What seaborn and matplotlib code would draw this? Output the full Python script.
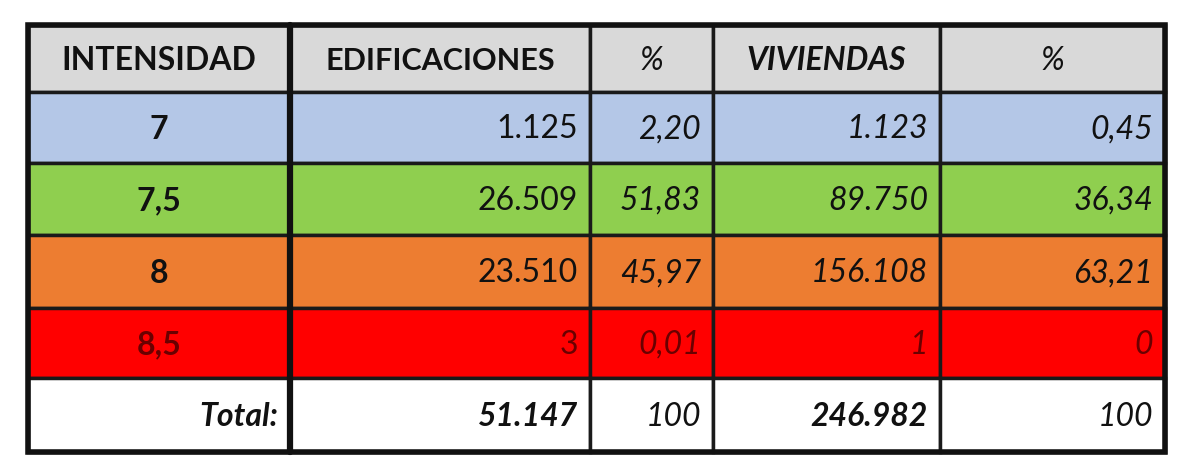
import matplotlib
matplotlib.use("Agg")
import matplotlib.pyplot as plt
import seaborn as sns
from matplotlib.patches import Rectangle

sns.set_theme(style="white")
plt.rcParams['font.family'] = ['Lato', 'DejaVu Sans']

headers = ["INTENSIDAD", "EDIFICACIONES", "%", "VIVIENDAS", "%"]
intensidad = ["7", "7,5", "8", "8,5"]
edificaciones = ["1.125", "26.509", "23.510", "3"]
pct_edif = ["2,20", "51,83", "45,97", "0,01"]
viviendas = ["1.123", "89.750", "156.108", "1"]
pct_viv = ["0,45", "36,34", "63,21", "0"]
total = ["Total:", "51.147", "100", "246.982", "100"]

row_colors = ["#d9d9d9", "#b4c7e7", "#8fcf4f", "#ed7d31", "#ff0000", "#ffffff"]
col_edges = [28, 290, 590, 713, 940, 1165]
row_edges = [25, 92, 163, 235, 308, 378, 452]

fig = plt.figure(figsize=(12, 4.74), dpi=100)
ax = fig.add_axes([0, 0, 1, 1])
ax.set_xlim(0, 1200)
ax.set_ylim(474, 0)
ax.axis("off")

rows = [headers] + [list(r) for r in zip(intensidad, edificaciones, pct_edif, viviendas, pct_viv)] + [total]
fs = 23
for r, vals in enumerate(rows):
    y0, y1 = row_edges[r], row_edges[r + 1]
    for c, v in enumerate(vals):
        x0, x1 = col_edges[c], col_edges[c + 1]
        ax.add_patch(Rectangle((x0, y0), x1 - x0, y1 - y0, facecolor=row_colors[r],
                               edgecolor="#1a1a1a", linewidth=2.5))
        tc = "#6a0000" if r == 4 else "#111111"
        if r == 0:
            weight = "bold" if c in (0, 1, 3) else "normal"
            style = "italic" if c in (2, 3, 4) else "normal"
            ax.text((x0 + x1) / 2, (y0 + y1) / 2 + 2, v, ha="center", va="center",
                    fontsize=fs if c != 1 else fs - 1, fontweight=weight, fontstyle=style, color=tc)
        elif r == 5:
            weight = "bold" if c in (0, 1, 3) else "normal"
            ax.text(x1 - 12, (y0 + y1) / 2 + 2, v, ha="right", va="center",
                    fontsize=fs, fontweight=weight, fontstyle="italic", color=tc)
        elif c == 0:
            ax.text((x0 + x1) / 2, (y0 + y1) / 2 + 2, v, ha="center", va="center",
                    fontsize=fs, fontweight="bold", color=tc)
        else:
            style = "normal" if c == 1 else "italic"
            ax.text(x1 - 12, (y0 + y1) / 2 + 2, v, ha="right", va="center",
                    fontsize=fs, fontstyle=style, color=tc)

ax.plot([290, 290], [25, 452], color="#111111", linewidth=4.5)
ax.add_patch(Rectangle((28, 25), 1137, 427, fill=False, edgecolor="#111111", linewidth=4))

fig.savefig("out.png", dpi=100)
